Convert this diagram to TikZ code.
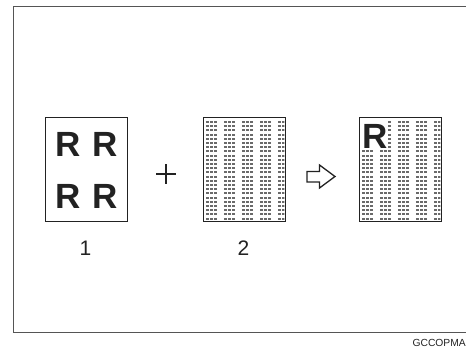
\documentclass[tikz,border=0pt]{standalone}
\usepackage{fontspec}
\setmainfont{Liberation Sans}
\definecolor{ink}{HTML}{222222}
\definecolor{framec}{HTML}{555555}
\definecolor{dotc}{HTML}{6a6a6a}
\tikzset{
  sheet/.style={draw=ink, line width=1.1pt, fill=white, minimum width=82pt, minimum height=104pt, inner sep=0pt, anchor=north west},
  bigR/.style={font=\fontsize{35}{35}\selectfont\bfseries, inner sep=0pt, text=ink},
  numlab/.style={font=\fontsize{21}{21}\selectfont, inner sep=0pt, text=ink},
  symline/.style={draw=ink, line width=1.5pt},
  dotdash/.style={fill=dotc}
}
\newcommand{\dotpattern}[2]{%
  \begin{scope}
    \clip (#1+0.6,#2+0.6) rectangle (#1+81.4,#2+103.4);
    \foreach \r [evaluate=\r as \yy using {int(4.2*\r+0.5)}] in {0,...,23}{
      \foreach \g in {0,...,4}{
        \foreach \d in {0,1,2}{
          \fill[dotdash] (#1+3.2+18*\g+4*\d, #2+4.4+\yy) rectangle ++(2.4,1.2);
        }
      }
    }
  \end{scope}}
\begin{document}
\begin{tikzpicture}[x=1pt,y=-1pt]
\useasboundingbox (0,0) rectangle (466,358);
\clip (0,0) rectangle (466,358);
% outer frame
\draw[framec, line width=1pt] (13,7) rectangle (470,332);
% sheet 1
\node[sheet] (s1) at (45,117) {};
\node[bigR] (r11) at (68.5,144.5) {R};
\node[bigR] (r12) at (105,144.5) {R};
\node[bigR] (r21) at (68.5,196) {R};
\node[bigR] (r22) at (105,196) {R};
\node[numlab] (n1) at (85.5,248) {1};
% plus
\coordinate (pl) at (166,174);
\draw[symline] ([xshift=-10pt]pl) -- ([xshift=10pt]pl);
\draw[symline] ([yshift=-10pt]pl) -- ([yshift=10pt]pl);
% sheet 2
\node[sheet] (s2) at (203,117) {};
\dotpattern{203}{117}
\node[numlab] (n2) at (243.5,248) {2};
% outline arrow
\draw[ink, line width=1.3pt, line join=miter]
  (307,171.5) -- (319.5,171.5) -- (319.5,165) -- (335,176.5) -- (319.5,188) -- (319.5,182) -- (307,182) -- cycle;
% sheet 3
\node[sheet] (s3) at (359,117) {};
\dotpattern{359}{117}
\fill[white] (359.6,117.6) rectangle (387.5,149.5);
\node[bigR] (r3) at (375,136) {R};
% code
\node[font=\fontsize{10.3}{10.3}\selectfont, inner sep=0pt, text=ink, anchor=east] (code) at (466,343) {GCCOPMA};
\end{tikzpicture}
\end{document}
